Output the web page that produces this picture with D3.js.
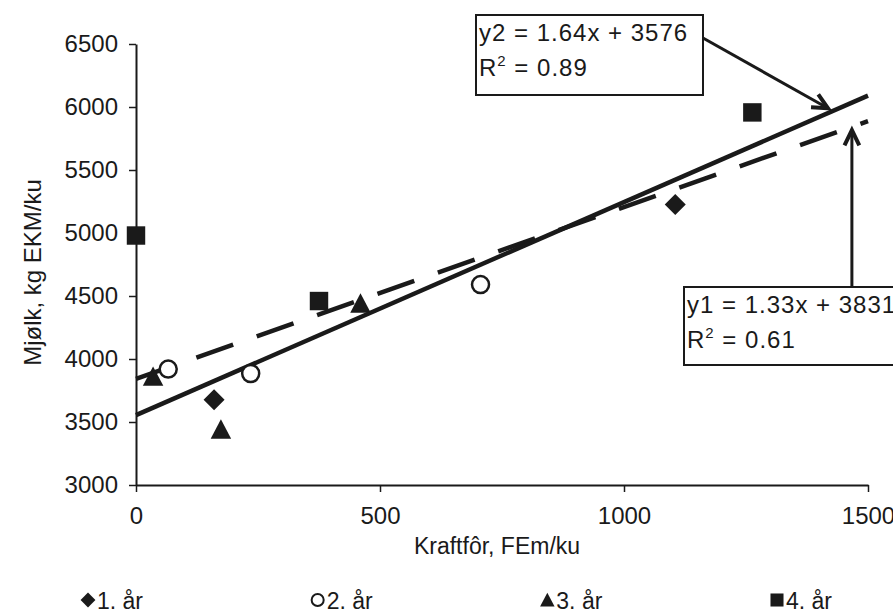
<!DOCTYPE html>
<html>
<head>
<meta charset="utf-8">
<script src="https://cdn.jsdelivr.net/npm/d3@7"></script>
<style>
  body { margin: 0; background: #fff; }
  text { font-family: "Liberation Sans", Arial, sans-serif; fill: #1a1a1a; }
</style>
</head>
<body>
<svg id="chart" width="893" height="613"></svg>
<script>

// Data
const series_names = ["1. år", "2. år", "3. år", "4. år"];
const year1 = [[160, 3676], [1105, 5227]];
const year2 = [[66, 3920], [235, 3885], [706, 4591]];
const year3 = [[35, 3860], [174, 3440], [460, 4440]];
const year4 = [[0, 4980], [375, 4460], [1263, 5957]];

// trend lines (end points as drawn)
const trend_y2 = [[0, 3555], [1500, 6090]];
const trend_y1 = [[0, 3843], [1500, 5888]];

const x_ticks = [0, 500, 1000, 1500],
    y_ticks = [3000, 3500, 4000, 4500, 5000, 5500, 6000, 6500];

const eq_y2 = ["y2 = 1.64x + 3576", "0.89"],
    eq_y1 = ["y1 = 1.33x + 3831", "0.61"];
const tip_y2 = [1418, 5990],
    tip_y1 = [1467, 5816];

const svg = d3.select("#chart");
const ink = "#1a1a1a";
const font = "'Liberation Sans', Arial, sans-serif";

const x = d3.scaleLinear().domain([0, 1500]).range([136, 868]);
const y = d3.scaleLinear().domain([3000, 6500]).range([485, 44]);

// Symbol types (Excel style markers)
const diamond = {draw(c, s) { const r = Math.sqrt(s) / 2;
    c.moveTo(0, -r); c.lineTo(r, 0); c.lineTo(0, r); c.lineTo(-r, 0); c.closePath(); }};
const triangle = {draw(c, s) { const r = Math.sqrt(s) / 2;
    c.moveTo(0, -r); c.lineTo(r, r * 0.9); c.lineTo(-r, r * 0.9); c.closePath(); }};
const square = {draw(c, s) { const r = Math.sqrt(s) / 2;
    c.rect(-r, -r, 2 * r, 2 * r); }};
const circle = {draw(c, s) { const r = Math.sqrt(s) / 2;
    c.moveTo(r, 0); c.arc(0, 0, r, 0, 2 * Math.PI); }};

const groups = [
    {data: year1, type: diamond, size: 440, fill: ink, stroke: "none"},
    {data: year2, type: circle, size: 290, fill: "#fff", stroke: ink},
    {data: year3, type: triangle, size: 420, fill: ink, stroke: "none"},
    {data: year4, type: square, size: 340, fill: ink, stroke: "none"}
];

// Axes
const x_axis = d3.axisBottom(x).tickValues(x_ticks).tickFormat(d3.format("d"))
    .tickSize(7).tickSizeOuter(0).tickPadding(15);
const y_axis = d3.axisLeft(y).tickValues(y_ticks).tickFormat(d3.format("d"))
    .tickSize(7).tickSizeOuter(0).tickPadding(11);

const gx = svg.append("g").attr("transform", `translate(0,${y(3000)})`).call(x_axis);
const gy = svg.append("g").attr("transform", `translate(${x(0)},0)`).call(y_axis);

[gx, gy].forEach(g => {
    g.select(".domain").attr("stroke", ink).attr("stroke-width", 2);
    g.selectAll(".tick line").attr("stroke", ink).attr("stroke-width", 1.5);
    g.selectAll(".tick text").style("font-size", "24px").attr("fill", ink)
        .style("font-family", font);
});

// Axis titles
svg.append("text")
    .attr("x", 497)
    .attr("y", 554)
    .attr("text-anchor", "middle")
    .style("font-size", "23px")
    .text("Kraftfôr, FEm/ku");

svg.append("text")
    .attr("transform", `translate(41,${(y(3000) + y(6500)) / 2 + 8}) rotate(-90)`)
    .attr("text-anchor", "middle")
    .style("font-size", "24px")
    .text("Mjølk, kg EKM/ku");

// Trend lines
const line = d3.line().x(d => x(d[0])).y(d => y(d[1]));

svg.append("path")
    .datum(trend_y1)
    .attr("d", line)
    .attr("fill", "none")
    .attr("stroke", ink)
    .attr("stroke-width", 4.5)
    .attr("stroke-dasharray", "39,25");

svg.append("path")
    .datum(trend_y2)
    .attr("d", line)
    .attr("fill", "none")
    .attr("stroke", ink)
    .attr("stroke-width", 4.5);

// Points
groups.forEach(g => {
    const sym = d3.symbol().type(g.type).size(g.size);
    svg.append("g").selectAll("path")
        .data(g.data)
        .enter().append("path")
        .attr("transform", d => `translate(${x(d[0])},${y(d[1])})`)
        .attr("d", sym)
        .attr("fill", g.fill)
        .attr("stroke", g.stroke)
        .attr("stroke-width", 2.5);
});

// Annotation boxes with arrows
function eq_box(lines, bx, by, bw, bh, from, tip) {
    svg.append("rect")
        .attr("x", bx).attr("y", by).attr("width", bw).attr("height", bh)
        .attr("fill", "#fff").attr("stroke", ink).attr("stroke-width", 2);

    svg.append("text")
        .attr("x", bx + 3).attr("y", by + 26)
        .style("font-size", "24px").style("letter-spacing", "1px")
        .text(lines[0]);

    const t = svg.append("text")
        .attr("x", bx + 3).attr("y", by + 61)
        .style("font-size", "24px").style("letter-spacing", "1px");
    t.append("tspan").text("R");
    t.append("tspan").attr("dy", -10).style("font-size", "15px").text("2");
    t.append("tspan").attr("dy", 10).text(" = " + lines[1]);

    const tx = x(tip[0]), ty = y(tip[1]);
    svg.append("line")
        .attr("x1", from[0]).attr("y1", from[1]).attr("x2", tx).attr("y2", ty)
        .attr("stroke", ink).attr("stroke-width", 3);

    const ang = Math.atan2(ty - from[1], tx - from[0]);
    const len = 17, spread = 0.45;
    const head = [
        [tx - len * Math.cos(ang - spread), ty - len * Math.sin(ang - spread)],
        [tx, ty],
        [tx - len * Math.cos(ang + spread), ty - len * Math.sin(ang + spread)]
    ];
    svg.append("path")
        .attr("d", d3.line()(head))
        .attr("fill", "none")
        .attr("stroke", ink)
        .attr("stroke-width", 4)
        .attr("stroke-linejoin", "miter");
}

eq_box(eq_y2, 476, 15, 227, 80, [703, 38], tip_y2);
eq_box(eq_y1, 684, 287, 220, 78, [x(tip_y1[0]), 287], tip_y1);

// Legend
const lx = d3.scaleLinear().domain([0, 3]).range([88, 777]);
const legend = svg.append("g").selectAll("g")
    .data(series_names)
    .enter().append("g")
    .attr("transform", (d, i) => `translate(${lx(i)},600)`);

legend.append("path")
    .attr("d", (d, i) => d3.symbol().type(groups[i].type).size(groups[i].size * 0.5)())
    .attr("fill", (d, i) => groups[i].fill)
    .attr("stroke", (d, i) => groups[i].stroke)
    .attr("stroke-width", 2);

legend.append("text")
    .attr("x", 9)
    .attr("y", 9)
    .style("font-size", "23px")
    .text(d => d);

</script>
</body>
</html>
